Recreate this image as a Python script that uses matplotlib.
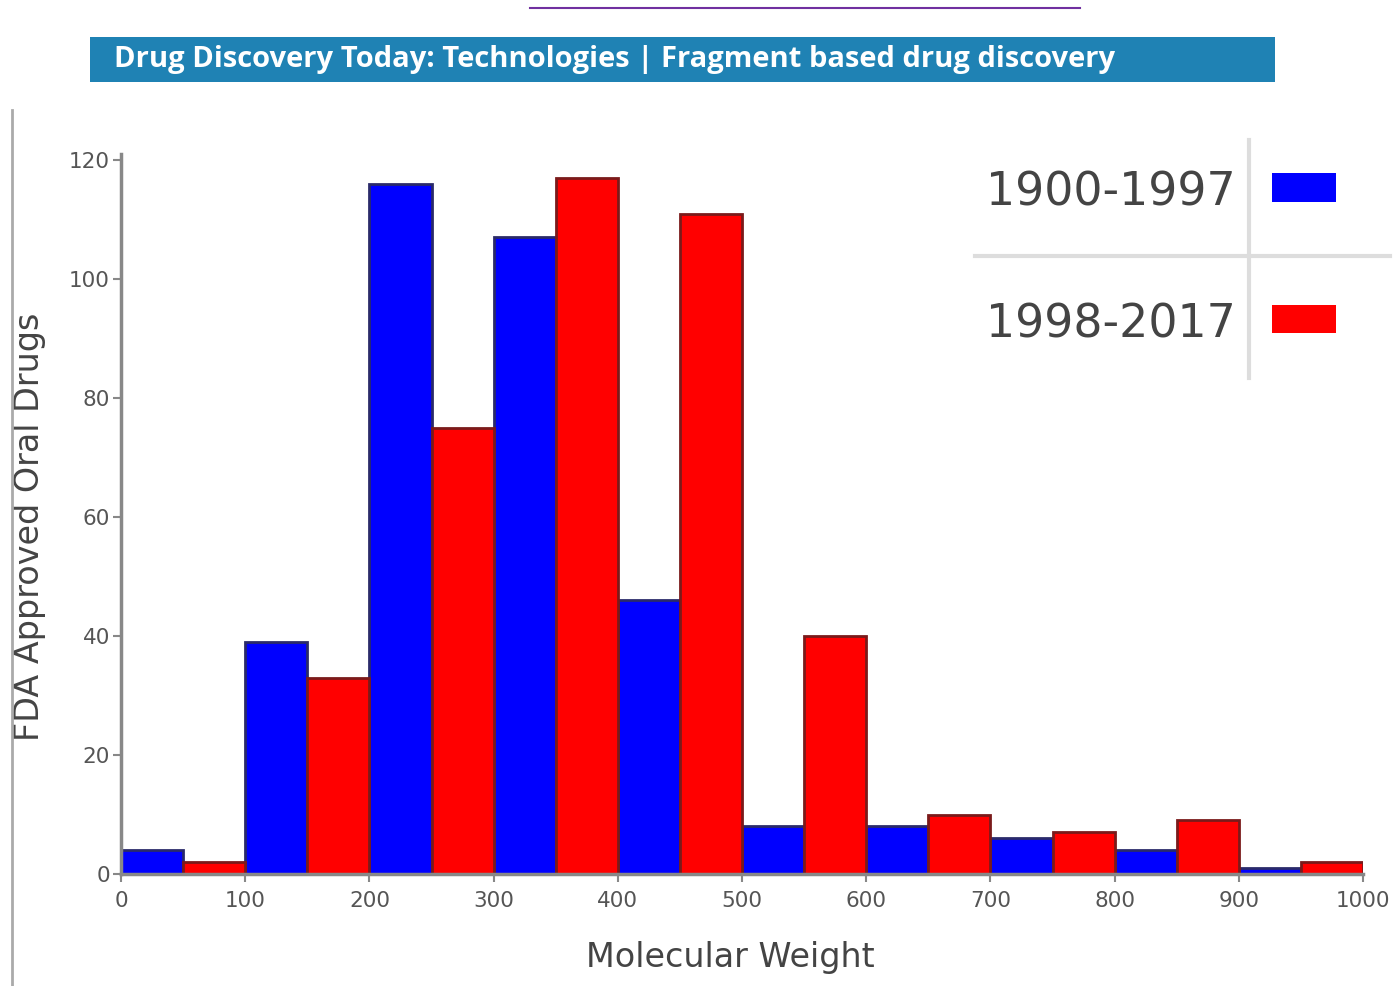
import matplotlib
matplotlib.use("Agg")
import matplotlib.pyplot as plt
from matplotlib.patches import Rectangle
from matplotlib.lines import Line2D

# Data
bin_left_blue = [0, 100, 200, 300, 400, 500, 600, 700, 800, 900]
counts_blue = [4, 39, 116, 107, 46, 8, 8, 6, 4, 1]
bin_left_red = [50, 150, 250, 350, 450, 550, 650, 750, 850, 950]
counts_red = [2, 33, 75, 117, 111, 40, 10, 7, 9, 2]
bin_width = 50
series_labels = ["1900-1997", "1998-2017"]
x_ticks = [0, 100, 200, 300, 400, 500, 600, 700, 800, 900, 1000]
y_ticks = [0, 20, 40, 60, 80, 100, 120]
banner_text = "Drug Discovery Today: Technologies | Fragment based drug discovery"

W, H = 1398, 986
fig = plt.figure(figsize=(W / 100, H / 100), dpi=100)
fig.patch.set_facecolor("white")

def fx(px):
    return px / W

def fy(py):
    return 1 - py / H

# Purple line at top
fig.add_artist(Line2D([fx(530), fx(1080)], [fy(8), fy(8)], color="#7030A0", lw=1.5))

# Banner
fig.add_artist(Rectangle((fx(90), fy(82)), fx(1275) - fx(90), fy(37) - fy(82),
                         facecolor="#1F82B4", edgecolor="none"))
fig.text(fx(114), fy(59), banner_text, color="white", fontsize=21,
         fontweight="bold", family="Open Sans", va="center", ha="left")

# Left gray vertical rule
fig.add_artist(Line2D([fx(12), fx(12)], [fy(110), fy(985)], color="#aaaaaa", lw=2))

# Axes
ax = fig.add_axes([fx(121), fy(874), fx(1363) - fx(121), (874 - 160) / H])
ax.bar(bin_left_blue, counts_blue, width=bin_width, align="edge",
       color="#0000FF", edgecolor="#2a2a6a", linewidth=2)
ax.bar(bin_left_red, counts_red, width=bin_width, align="edge",
       color="#FF0000", edgecolor="#7a1a1a", linewidth=2)
ax.set_xlim(0, 1000)
ax.set_ylim(0, 120)
ax.set_xticks(x_ticks)
ax.set_yticks(y_ticks)
for s in ["top", "right"]:
    ax.spines[s].set_visible(False)
for s in ["left", "bottom"]:
    ax.spines[s].set_color("#888888")
    ax.spines[s].set_linewidth(2.5)
ax.spines["left"].set_bounds(0, 121)
ax.tick_params(axis="both", colors="#888888", labelcolor="#555555",
               labelsize=15.5, length=6, width=1.5)
ax.tick_params(axis="y", pad=2)
ax.tick_params(axis="x", pad=6)
ax.set_xlabel("Molecular Weight", fontsize=24, color="#444444")
ax.xaxis.set_label_coords((730 - 121) / 1242, -(941 - 874) / 714)
ax.set_ylabel("FDA Approved Oral Drugs", fontsize=24, color="#444444")
ax.yaxis.set_label_coords(-(121 - 46) / 1242, (874 - 527) / 714)

# Legend (custom table-like)
fig.add_artist(Line2D([fx(1249), fx(1249)], [fy(140), fy(378)], color="#dddddd", lw=3))
fig.add_artist(Line2D([fx(975), fx(1390)], [fy(256), fy(256)], color="#dddddd", lw=3))
fig.text(fx(1236), fy(193), series_labels[0], fontsize=33, color="#444444",
         ha="right", va="center")
fig.text(fx(1236), fy(325), series_labels[1], fontsize=33, color="#444444",
         ha="right", va="center")
fig.add_artist(Rectangle((fx(1272), fy(202)), fx(1336) - fx(1272), fy(173) - fy(202),
                         facecolor="#0000FF", edgecolor="none"))
fig.add_artist(Rectangle((fx(1272), fy(333)), fx(1336) - fx(1272), fy(305) - fy(333),
                         facecolor="#FF0000", edgecolor="none"))

fig.savefig("out.png", dpi=100)
